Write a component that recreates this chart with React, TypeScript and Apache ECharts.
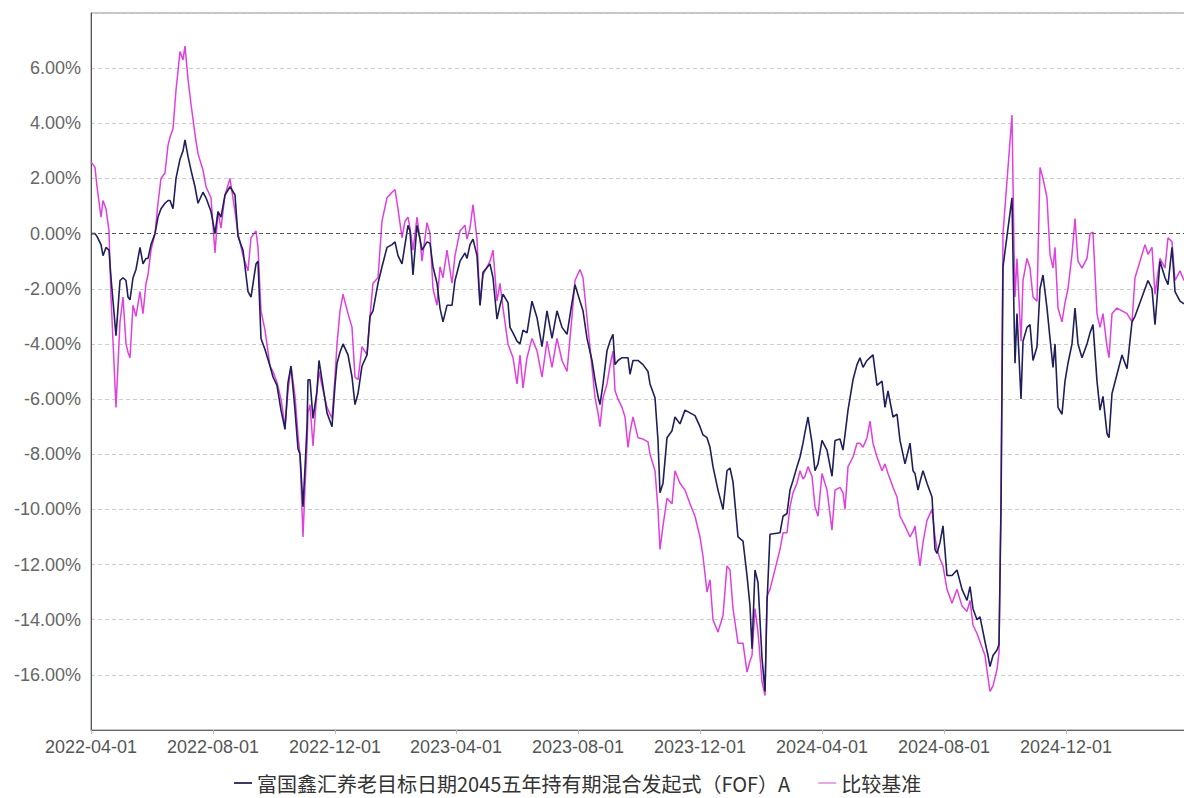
import React, { useEffect, useRef } from "react";
import * as echarts from "echarts";

// Days after 2022-04-01 for every sampled trading day
const DAY_OFFSET = [
  0, 4, 6, 10, 12, 15, 18, 20, 25, 29, 32, 35, 37, 39, 42, 45, 49, 52, 55, 57,
  60, 64, 67, 70, 74, 77, 79, 82, 85, 89, 92, 94, 97, 100, 104, 107, 112, 115, 120, 124,
  127, 130, 134, 139, 144, 147, 152, 157, 160, 165, 167, 170, 174, 179, 182, 186, 190, 194, 197, 200,
  204, 207, 209, 212, 214, 216, 217, 219, 222, 226, 228, 231, 236, 241, 244, 246, 249, 252, 257, 261,
  264, 267, 271, 276, 279, 282, 287, 291, 296, 301, 304, 307, 311, 314, 317, 319, 322, 326, 329, 331,
  336, 339, 342, 346, 349, 352, 356, 361, 364, 369, 374, 376, 379, 382, 386, 389, 392, 399, 402, 406,
  409, 412, 417, 419, 422, 426, 429, 432, 436, 441, 446, 451, 456, 461, 466, 471, 476, 481, 484, 489,
  492, 496, 501, 504, 507, 509, 512, 516, 519, 522, 524, 527, 531, 534, 537, 539, 542, 547, 552, 557,
  559, 564, 567, 569, 572, 576, 581, 584, 589, 594, 599, 604, 609, 612, 616, 619, 622, 627, 632, 636,
  639, 642, 647, 652, 656, 659, 661, 664, 667, 671, 674, 676, 679, 689, 692, 696, 699, 702, 706, 709,
  712, 714, 717, 721, 724, 727, 731, 736, 741, 744, 749, 752, 754, 757, 762, 766, 769, 772, 776, 779,
  782, 786, 791, 794, 797, 802, 806, 809, 814, 819, 822, 824, 827, 829, 832, 836, 841, 844, 846, 849,
  852, 856, 861, 866, 871, 876, 879, 882, 886, 889, 894, 897, 899, 902, 906, 908, 910, 912, 921, 923,
  924, 926, 930, 932, 936, 939, 942, 946, 949, 952, 956, 959, 962, 964, 967, 971, 974, 977, 981, 984,
  987, 991, 996, 999, 1002, 1006, 1009, 1012, 1016, 1018, 1021, 1026, 1031, 1036, 1041, 1044, 1049, 1054, 1057, 1061,
  1064, 1069, 1074, 1077, 1081, 1084, 1089, 1093,
];

// 富国鑫汇养老目标日期2045五年持有期混合发起式（FOF）A, cumulative return %
const FUND = [
  0.0, 0.0, -0.1, -0.4, -0.8, -0.5, -0.6, -1.6, -3.7, -1.7, -1.6, -1.7, -2.3, -2.4, -1.6, -1.3, -0.5, -1.1, -0.9, -0.9,
  -0.4, 0.0, 0.6, 0.9, 1.1, 1.2, 1.2, 0.9, 2.0, 2.7, 3.0, 3.4, 2.8, 2.3, 1.7, 1.1, 1.5, 1.3, 0.8, 0.0,
  0.8, 0.6, 1.4, 1.7, 1.4, -0.1, -0.6, -2.1, -2.3, -1.1, -1.0, -3.8, -4.2, -4.8, -5.2, -5.5, -6.4, -7.1, -5.4, -4.8,
  -6.4, -7.8, -8.0, -9.9, -8.5, -7.0, -5.3, -5.3, -6.7, -5.7, -4.6, -5.3, -6.5, -7.0, -5.5, -4.7, -4.3, -4.0, -4.4, -5.2,
  -6.2, -5.8, -4.8, -4.4, -3.0, -2.8, -1.8, -1.2, -0.5, -0.4, -0.3, -0.8, -1.1, -0.4, 0.3, 0.1, -1.5, 0.3, -0.2, -0.6,
  -0.3, -0.35, -1.2, -1.8, -2.7, -3.2, -2.6, -2.6, -1.7, -1.0, -0.7, -0.9, -0.4, -0.2, -0.8, -2.6, -1.4, -1.1, -1.6, -3.1,
  -2.6, -2.2, -2.5, -3.4, -3.6, -3.9, -4.0, -3.5, -3.6, -2.45, -3.05, -4.1, -2.8, -3.8, -2.8, -3.4, -3.65, -2.5, -1.85, -2.45,
  -2.8, -3.8, -4.6, -5.3, -5.9, -6.2, -5.45, -4.25, -3.9, -3.65, -4.75, -4.6, -4.5, -4.5, -4.5, -5.1, -4.6, -4.6, -4.75, -5.0,
  -5.45, -5.95, -7.5, -9.4, -9.05, -7.4, -7.15, -6.65, -6.9, -6.4, -6.5, -6.6, -7.0, -7.3, -7.4, -7.75, -8.45, -9.3, -10.0, -8.6,
  -8.5, -9.0, -11.0, -11.15, -12.4, -13.5, -15.05, -12.2, -12.65, -15.4, -16.6, -13.4, -10.9, -10.85, -10.25, -10.15, -9.3, -8.95, -8.45, -8.1,
  -7.6, -7.2, -6.65, -7.6, -8.6, -8.35, -7.5, -7.85, -8.8, -7.5, -7.45, -7.85, -7.3, -6.4, -5.3, -4.75, -4.5, -4.85, -4.6, -4.5,
  -4.4, -5.5, -5.35, -6.3, -5.7, -6.65, -6.55, -7.5, -8.35, -7.6, -8.6, -8.7, -9.3, -9.0, -8.6, -9.05, -9.55, -11.45, -11.6, -11.2,
  -10.6, -12.4, -12.4, -12.2, -12.9, -13.3, -12.8, -13.6, -14.0, -13.9, -14.8, -15.3, -15.7, -15.3, -15.1, -14.9, -10.0, -1.2, 1.3, -2.9,
  -4.7, -2.9, -6.0, -3.9, -3.4, -3.3, -4.6, -4.1, -2.0, -1.5, -2.7, -3.8, -4.85, -4.0, -6.3, -6.55, -5.35, -4.7, -4.0, -2.7,
  -4.0, -4.5, -4.0, -3.6, -3.3, -5.35, -6.4, -5.9, -7.25, -7.4, -5.8, -5.1, -4.4, -4.9, -3.2, -3.0, -2.5, -2.0, -1.7, -2.0,
  -3.3, -1.0, -1.6, -1.85, -0.5, -2.1, -2.45, -2.55,
];

// 比较基准, cumulative return %
const BENCH = [
  2.6, 2.4, 1.7, 0.6, 1.2, 0.9, 0.1, -2.3, -6.3, -3.2, -2.3, -4.0, -4.3, -4.5, -2.6, -3.0, -2.1, -2.9, -1.8, -1.5,
  -0.6, 0.0, 1.1, 2.0, 2.2, 3.2, 3.5, 3.8, 5.2, 6.6, 6.3, 6.8, 5.6, 4.7, 3.6, 2.9, 2.3, 1.7, 1.3, -0.7,
  0.8, 0.2, 1.4, 2.0, 0.8, 0.0, -0.8, -1.35, -0.15, 0.1, -0.5, -2.8, -3.5, -4.8, -5.0, -5.4, -6.0, -7.0, -5.7, -4.8,
  -5.9, -7.3, -8.0, -11.0, -9.2, -7.7, -6.5, -6.2, -7.7, -5.7, -5.0, -5.5, -6.3, -6.7, -5.2, -4.0, -2.8, -2.2, -2.9, -3.4,
  -5.2, -5.3, -4.1, -4.4, -3.0, -1.8, -1.6, 0.45, 1.3, 1.5, 1.6, 0.9, -0.15, 0.45, 0.6, 0.2, -0.6, 0.6, -0.2, -1.0,
  0.4, 0.0, -2.0, -2.6, -1.2, -1.6, -0.6, -1.8, -0.8, 0.1, 0.3, -0.2, 0.2, 1.05, -0.2, -2.6, -1.5, -1.0, -0.6, -2.45,
  -1.8, -2.7, -4.0, -4.2, -4.5, -5.45, -4.4, -5.6, -4.5, -3.8, -4.25, -5.2, -3.9, -4.85, -3.8, -4.6, -5.0, -3.0, -1.7, -1.3,
  -1.6, -3.05, -4.85, -5.95, -6.5, -7.0, -5.95, -5.45, -4.8, -4.25, -5.7, -6.0, -6.3, -6.65, -7.75, -7.2, -6.65, -7.4, -7.45, -7.55,
  -8.0, -8.6, -10.0, -11.45, -10.6, -9.6, -9.8, -8.6, -9.05, -9.3, -9.8, -10.25, -11.0, -11.7, -13.0, -12.55, -14.0, -14.45, -13.85, -12.05,
  -12.2, -13.6, -14.85, -14.85, -15.9, -15.5, -15.3, -13.6, -14.45, -16.25, -16.75, -13.15, -12.9, -11.45, -10.85, -10.85, -9.9, -9.4, -9.05, -8.6,
  -8.9, -8.8, -8.45, -8.8, -9.9, -10.25, -8.7, -9.3, -10.75, -9.3, -9.2, -9.4, -10.0, -8.45, -8.1, -7.6, -7.6, -7.75, -7.4, -6.8,
  -7.6, -8.1, -8.6, -8.35, -8.7, -9.2, -9.55, -10.25, -10.6, -11.0, -10.8, -10.6, -11.5, -12.05, -11.2, -10.4, -10.0, -11.0, -11.45, -11.8,
  -12.05, -12.9, -13.4, -12.9, -13.5, -13.7, -13.3, -14.2, -14.5, -14.8, -15.3, -16.1, -16.6, -16.4, -15.8, -15.2, -9.5, 0.0, 4.3, -0.5,
  -2.3, -0.9, -3.9, -1.7, -0.9, -1.25, -2.3, -2.45, 2.4, 2.0, 1.3, -0.75, -1.25, -0.5, -2.7, -3.2, -2.5, -2.0, -0.75, 0.55,
  -1.0, -1.25, -0.9, 0.0, 0.05, -2.9, -3.4, -2.9, -4.1, -4.5, -2.9, -2.7, -2.8, -2.9, -3.2, -1.6, -1.0, -0.4, -0.75, -0.5,
  -2.2, -0.9, -1.25, -0.15, -0.3, -1.7, -1.35, -1.7,
];

const X_TICK_LABELS = [
  "2022-04-01", "2022-08-01", "2022-12-01", "2023-04-01", "2023-08-01",
  "2023-12-01", "2024-04-01", "2024-08-01", "2024-12-01",
];

const Y_MIN = -18;
const Y_MAX = 8;
const Y_STEP = 2;

const FUND_NAME = "富国鑫汇养老目标日期2045五年持有期混合发起式（FOF）A";
const BENCH_NAME = "比较基准";

const START_Y = 2022;
const START_M = 3;
const START_D = 1;
const AXIS_DAYS = 1095;
const DAY_MS = 86400000;

function dateToDay(s: string): number {
  const [y, m, d] = s.split("-").map(Number);
  return Math.round((Date.UTC(y, m - 1, d) - Date.UTC(START_Y, START_M, START_D)) / DAY_MS);
}
function pad(n: number) {
  return n < 10 ? "0" + n : "" + n;
}
function dayToLabel(day: number): string {
  const d = new Date(Date.UTC(START_Y, START_M, START_D) + Math.round(day) * DAY_MS);
  return d.getUTCFullYear() + "-" + pad(d.getUTCMonth() + 1) + "-" + pad(d.getUTCDate());
}

export default function App() {
  const ref = useRef<HTMLDivElement>(null);
  useEffect(() => {
    if (!ref.current) return;
    const chart = echarts.init(ref.current, undefined, { renderer: "svg" });
    const fundData = DAY_OFFSET.map((d, i) => [d, FUND[i]]);
    const benchData = DAY_OFFSET.map((d, i) => [d, BENCH[i]]);
    const tickVals = X_TICK_LABELS.map(dateToDay);
    chart.setOption({
      animation: false,
      backgroundColor: "#ffffff",
      grid: {
        left: 91,
        top: 13,
        width: 1095,
        height: 717,
        show: true,
        borderColor: "#8a8a8a",
        borderWidth: 1,
        backgroundColor: "transparent",
      },
      legend: {
        left: 234,
        top: 772,
        padding: 0,
        icon: "rect",
        itemWidth: 18,
        itemHeight: 2,
        itemGap: 28,
        textStyle: {
          fontFamily: "Noto Sans CJK SC",
          fontSize: 20,
          lineHeight: 22,
          color: "#333333",
        },
        data: [
          { name: FUND_NAME, itemStyle: { color: "#3a3a66" } },
          { name: BENCH_NAME, itemStyle: { color: "#e8a6e8" } },
        ],
      },
      xAxis: {
        type: "value",
        min: 0,
        max: AXIS_DAYS,
        axisLine: { show: true, onZero: false, lineStyle: { color: "#666666", width: 1 } },
        axisTick: {
          show: true,
          customValues: tickVals,
          length: 4,
          lineStyle: { color: "#bbbbbb" },
        },
        axisLabel: {
          customValues: tickVals,
          fontFamily: "Liberation Sans",
          fontSize: 18,
          color: "#555555",
          margin: 8,
          formatter: (v: number) => dayToLabel(v),
        },
        splitLine: { show: false },
      },
      yAxis: {
        type: "value",
        min: Y_MIN,
        max: Y_MAX,
        interval: Y_STEP,
        axisLine: { show: true, onZero: false, lineStyle: { color: "#555555", width: 1 } },
        axisTick: { show: false },
        axisLabel: {
          showMinLabel: false,
          showMaxLabel: false,
          fontFamily: "Liberation Sans",
          fontSize: 18,
          color: "#666666",
          margin: 10,
          formatter: (v: number) => v.toFixed(2) + "%",
        },
        splitLine: {
          show: true,
          lineStyle: { color: "#cccccc", type: [4, 3], width: 1 },
        },
      },
      series: [
        {
          name: FUND_NAME,
          type: "line",
          data: fundData,
          showSymbol: false,
          symbol: "none",
          z: 3,
          lineStyle: { color: "#1f1f5c", width: 1.6 },
          itemStyle: { color: "#1f1f5c" },
          markLine: {
            silent: true,
            symbol: "none",
            label: { show: false },
            lineStyle: { color: "#555555", type: [4, 3], width: 1 },
            data: [{ yAxis: 0 }],
          },
        },
        {
          name: BENCH_NAME,
          type: "line",
          data: benchData,
          showSymbol: false,
          symbol: "none",
          z: 2,
          lineStyle: { color: "#e040e0", width: 1.5 },
          itemStyle: { color: "#e040e0" },
        },
      ],
    });
    return () => chart.dispose();
  }, []);
  return (
    <div
      ref={ref}
      style={{ position: "fixed", left: 0, top: 0, width: 1200, height: 798 }}
    />
  );
}
